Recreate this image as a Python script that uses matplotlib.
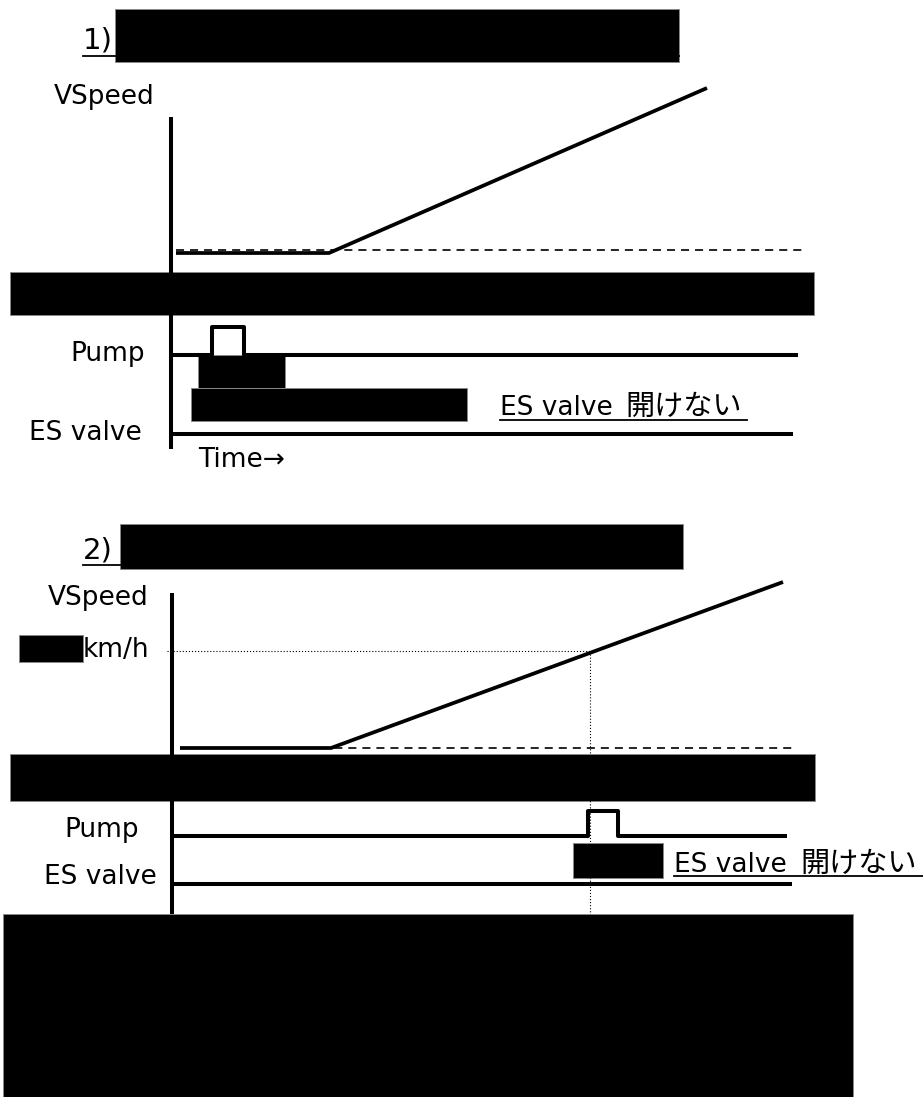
import matplotlib
matplotlib.use("Agg")
import matplotlib.pyplot as plt
from matplotlib import patches

plt.rcParams['font.family'] = ['DejaVu Sans', 'Noto Sans CJK JP']
plt.rcParams['lines.scale_dashes'] = False

# everything is in picture pixels: x = time, y = level (down is lower)
# panel 1
p1_speed_t = [176, 329, 707]
p1_speed_v = [253, 253, 88]
p1_base_t = [176, 805]
p1_base_v = [250, 250]
p1_pump_t = [173, 212, 212, 244, 244, 798]
p1_pump_v = [355, 355, 327, 327, 355, 355]
p1_valve_t = [173, 793]
p1_valve_v = [434, 434]
p1_axis_t = [171, 171]
p1_axis_v = [117, 449]

# panel 2
p2_speed_t = [180, 331, 783]
p2_speed_v = [748, 748, 582]
p2_base_t = [180, 797]
p2_base_v = [748, 748]
p2_limit_v = 651
p2_cross_t = 590
p2_pump_t = [173, 588, 588, 618, 618, 787]
p2_pump_v = [836, 836, 811, 811, 836, 836]
p2_valve_t = [173, 792]
p2_valve_v = [884, 884]
p2_axis_t = [172, 172]
p2_axis_v = [593, 914]

# blacked out boxes (x0, y0, x1, y1)
hidden = [
    (115, 9, 679, 62),
    (10, 272, 814, 315),
    (198, 355, 285, 388),
    (191, 388, 467, 421),
    (120, 524, 683, 569),
    (19, 635, 83, 662),
    (10, 754, 815, 801),
    (573, 843, 663, 878),
    (3, 914, 853, 1097),
]

fig = plt.figure(figsize=(9.23, 10.97), dpi=100)
ax = fig.add_axes([0, 0, 1, 1])
ax.set_xlim(0, 923)
ax.set_ylim(1097, 0)
ax.axis("off")

thick = 2.9

# panel 1 lines
ax.plot(p1_axis_t, p1_axis_v, color="black", lw=thick, solid_capstyle="butt")
ax.plot(p1_speed_t, p1_speed_v, color="black", lw=2.7, solid_capstyle="butt")
ax.plot(p1_base_t, p1_base_v, color="black", lw=1.2, dashes=(5.8, 4.3))
ax.plot(p1_pump_t, p1_pump_v, color="black", lw=thick, solid_joinstyle="round", solid_capstyle="butt")
ax.plot(p1_valve_t, p1_valve_v, color="black", lw=thick, solid_capstyle="butt")

# panel 2 lines
ax.plot(p2_axis_t, p2_axis_v, color="black", lw=thick, solid_capstyle="butt")
ax.plot([167, p2_cross_t], [p2_limit_v, p2_limit_v], color="black", lw=0.8, dashes=(0.8, 1.4))
ax.plot([p2_cross_t, p2_cross_t], [p2_limit_v, 914], color="black", lw=0.8, dashes=(0.8, 1.4))
ax.plot(p2_speed_t, p2_speed_v, color="black", lw=2.7, solid_capstyle="butt")
ax.plot(p2_base_t, p2_base_v, color="black", lw=1.2, dashes=(5.8, 4.3))
ax.plot(p2_pump_t, p2_pump_v, color="black", lw=thick, solid_joinstyle="round", solid_capstyle="butt")
ax.plot(p2_valve_t, p2_valve_v, color="black", lw=thick, solid_capstyle="butt")

# underlines
ax.plot([83, 679], [56, 56], color="black", lw=1.3)
ax.plot([83, 120], [565, 565], color="black", lw=1.3)
ax.plot([500, 747], [420, 420], color="black", lw=1.3)
ax.plot([674, 923], [876, 876], color="black", lw=1.3)

for x0, y0, x1, y1 in hidden:
    ax.add_patch(patches.Rectangle((x0, y0), x1 - x0, y1 - y0,
                                   facecolor="black", edgecolor="#888888", lw=0.7))

fs = 19
jp = ['Noto Sans CJK JP', 'DejaVu Sans']
ax.text(83, 41, "1)", fontsize=21, va="center", ha="left")
ax.text(155, 97, "VSpeed", fontsize=fs, va="center", ha="right")
ax.text(145, 354, "Pump", fontsize=fs, va="center", ha="right")
ax.text(142, 433, "ES valve", fontsize=fs, va="center", ha="right")
ax.text(198, 460, "Time→", fontsize=fs, va="center", ha="left")
ax.text(500, 415, "ES valve", fontsize=fs, va="baseline", ha="left")
ax.text(625, 415, "開けない", fontsize=21, va="baseline", ha="left", family=jp)

ax.text(83, 550, "2)", fontsize=21, va="center", ha="left")
ax.text(149, 598, "VSpeed", fontsize=fs, va="center", ha="right")
ax.text(149, 650, "km/h", fontsize=fs, va="center", ha="right", zorder=1)
ax.text(139, 830, "Pump", fontsize=fs, va="center", ha="right")
ax.text(157, 877, "ES valve", fontsize=fs, va="center", ha="right")
ax.text(674, 872, "ES valve", fontsize=fs, va="baseline", ha="left")
ax.text(800, 872, "開けない", fontsize=21, va="baseline", ha="left", family=jp)

plt.savefig("out.png", dpi=100)
